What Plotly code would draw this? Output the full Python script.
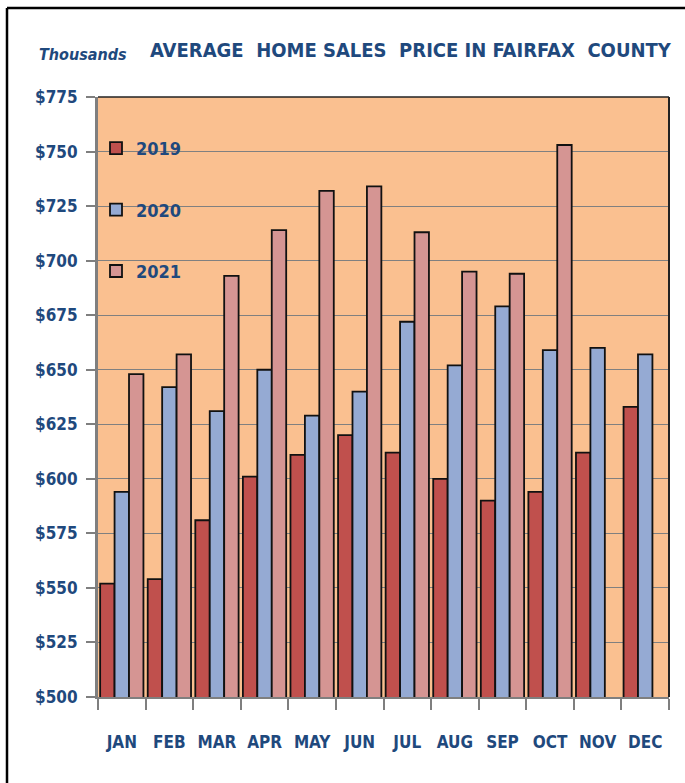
import plotly.graph_objects as go

months = ["JAN", "FEB", "MAR", "APR", "MAY", "JUN", "JUL", "AUG", "SEP", "OCT", "NOV", "DEC"]
y2019 = [552, 554, 581, 601, 611, 620, 612, 600, 590, 594, 612, 633]
y2020 = [594, 642, 631, 650, 629, 640, 672, 652, 679, 659, 660, 657]
y2021 = [648, 657, 693, 714, 732, 734, 713, 695, 694, 753, None, None]
tick_vals = [500, 525, 550, 575, 600, 625, 650, 675, 700, 725, 750, 775]
tick_text = ["$" + str(v) for v in tick_vals]

series = [("2019", y2019, "#C0504D"), ("2020", y2020, "#95AAD3"), ("2021", y2021, "#D59593")]

NAVY = "#1F497D"
FONT = "DejaVu Sans Condensed, Roboto, sans-serif"

fig = go.Figure()
for name, vals, col in series:
    fig.add_trace(go.Bar(
        x=months, y=vals, name=name, legendgroup=name,
        marker=dict(color=col, line=dict(color="#111111", width=1.8)),
    ))

W, H = 685, 783
L, R, T, B = 98, 16, 97, 86
pw, ph = W - L - R, H - T - B

def px(x):
    return (x - L) / pw

def py(y):
    return (H - B - y) / ph

fig.update_layout(
    width=W, height=H,
    margin=dict(l=L, r=R, t=T, b=B, autoexpand=False),
    paper_bgcolor="white",
    plot_bgcolor="#FAC090",
    barmode="group",
    bargap=0.09,
    bargroupgap=0,
    showlegend=True,
    legend=dict(
        x=px(96), y=py(130), xanchor="left", yanchor="top",
        bgcolor="rgba(0,0,0,0)",
        font=dict(family=FONT, size=18, color=NAVY, weight="bold"),
        tracegroupgap=35,
        itemwidth=30,
    ),
    font=dict(family=FONT, color=NAVY),
    xaxis=dict(
        type="category",
        automargin=False,
        tickangle=0,
        tickson="boundaries",
        ticks="outside", ticklen=11, tickcolor="#7F7F7F", tickwidth=1.5,
        showline=True, linecolor="#7F7F7F", linewidth=2,
        showgrid=False,
        tickfont=dict(family=FONT, size=17, color=NAVY, weight="bold"),
        ticklabelstandoff=29,
    ),
    yaxis=dict(
        automargin=False,
        range=[500, 775],
        tickvals=tick_vals, ticktext=tick_text,
        ticks="outside", ticklen=9, tickcolor="#7F7F7F", tickwidth=1.5,
        showline=True, linecolor="#7F7F7F", linewidth=3,
        showgrid=True, gridcolor="#808080", gridwidth=1,
        zeroline=False,
        tickfont=dict(family=FONT, size=17, color=NAVY, weight="bold"),
        ticklabelstandoff=5,
    ),
    shapes=[
        dict(type="line", xref="paper", yref="paper", x0=0, x1=1, y0=1, y1=1,
             line=dict(color="#222222", width=1.5)),
        dict(type="line", xref="paper", yref="paper", x0=1, x1=1, y0=0, y1=1,
             line=dict(color="#222222", width=2)),
        dict(type="line", xref="paper", yref="paper", x0=px(7), x1=px(7), y0=py(783), y1=py(8),
             line=dict(color="black", width=2.5)),
        dict(type="line", xref="paper", yref="paper", x0=px(7), x1=px(686), y0=py(8), y1=py(8),
             line=dict(color="black", width=2.5)),
    ],
    annotations=[
        dict(text="<i><b>Thousands</b></i>", xref="paper", yref="paper",
             x=px(37), y=py(55), xanchor="left", yanchor="middle", showarrow=False,
             font=dict(family=FONT, size=16, color=NAVY)),
        dict(text="<b>AVERAGE  HOME SALES  PRICE IN FAIRFAX  COUNTY</b>", xref="paper", yref="paper",
             x=px(148), y=py(50), xanchor="left", yanchor="middle", showarrow=False,
             font=dict(family=FONT, size=20, color=NAVY)),
    ],
)

fig.write_html("out.html", config={"displayModeBar": False},
               post_script="document.body.style.margin='0px';")
